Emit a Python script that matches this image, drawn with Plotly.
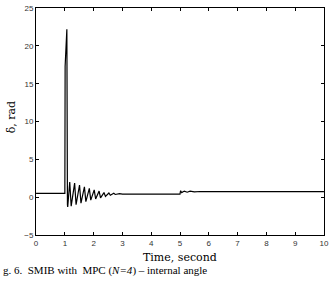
import plotly.graph_objects as go

time_s = [0, 1.0, 1.01, 1.04, 1.07, 1.09, 1.10,
          1.17, 1.22, 1.34, 1.39, 1.51, 1.56, 1.68, 1.73, 1.85, 1.90,
          2.02, 2.07, 2.19, 2.24, 2.36, 2.41, 2.53, 2.58, 2.70, 2.75,
          2.90, 3.0, 5.0, 5.02, 5.06, 5.15, 5.25, 5.35, 5.5, 5.7, 10.0]
delta_rad = [0.5, 0.5, 17.3, 20.0, 22.2, -1.0, -1.3,
             2.0, -1.2, 1.85, -1.0, 1.6, -0.8, 1.35, -0.6, 1.15, -0.4,
             0.95, -0.25, 0.8, -0.1, 0.6, 0.1, 0.55, 0.25, 0.5, 0.35,
             0.45, 0.4, 0.4, 0.85, 0.6, 0.8, 0.65, 0.78, 0.7, 0.74, 0.72]

x_ticks = list(range(0, 11))
y_ticks = [-5, 0, 5, 10, 15, 20, 25]

fig = go.Figure()
fig.add_trace(go.Scatter(x=time_s, y=delta_rad, mode="lines",
                         line=dict(color="black", width=1.2), showlegend=False))

axis_common = dict(showgrid=False, zeroline=False, showline=True, mirror="ticks",
                   linecolor="black", linewidth=1, ticks="inside", ticklen=3,
                   tickcolor="black", ticklabeloverflow="allow",
                   tickfont=dict(family="Arial", size=8, color="#333"))
fig.update_xaxes(range=[-0.002, 10.002], tickvals=x_ticks, **axis_common)
fig.update_yaxes(range=[-5.01, 25.01], tickvals=y_ticks, **axis_common)

fig.update_layout(
    width=333, height=288, paper_bgcolor="white", plot_bgcolor="white",
    margin=dict(l=36, r=4, t=4, b=53),
    annotations=[
        dict(text="Time, second", x=0.5, y=-0.1, xref="paper", yref="paper",
             showarrow=False, xanchor="center", yanchor="middle",
             font=dict(family="DejaVu Serif", size=11, color="black")),
        dict(text="δ, rad", x=-0.082, y=0.52, xref="paper", yref="paper", textangle=-90,
             showarrow=False, xanchor="center", yanchor="middle",
             font=dict(family="DejaVu Serif", size=11, color="black")),
        dict(text="g. 6.  SMIB with  MPC (<i>N=4</i>) – internal angle", x=-0.123, y=-0.158,
             xref="paper", yref="paper", showarrow=False, xanchor="left", yanchor="middle",
             font=dict(family="Liberation Serif", size=11, color="black")),
    ],
)
fig.write_html("out.html")
